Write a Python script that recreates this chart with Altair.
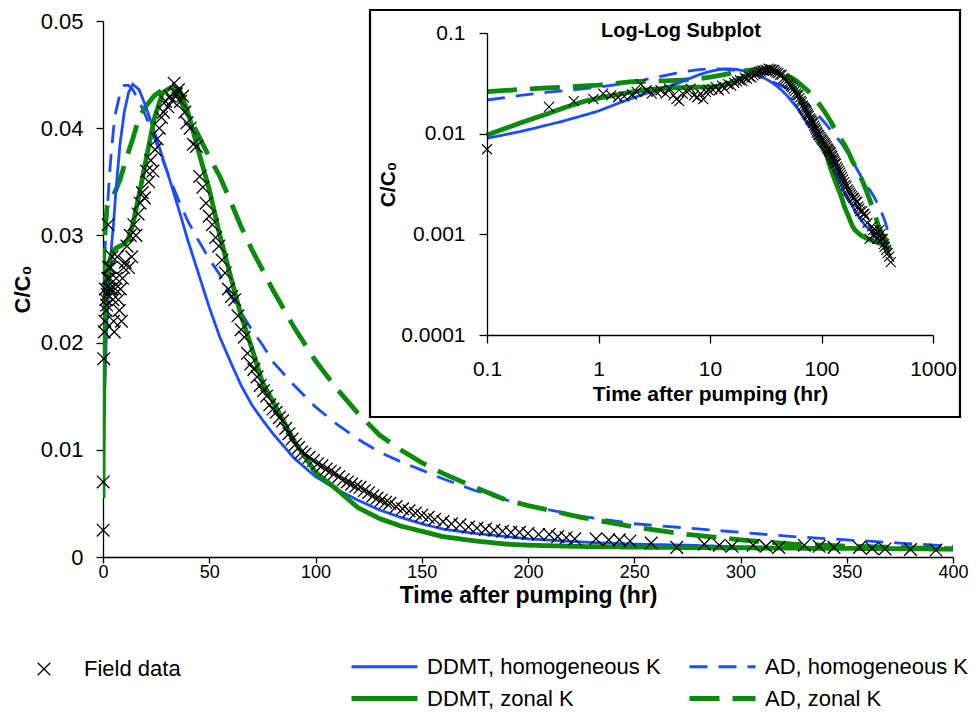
import altair as alt
import pandas as pd

FONT = "Liberation Sans"
CROSS = "M-1,-1L1,1M-1,1L1,-1"
LEGEND_LINE = "M-3,0L3,0"

# ---------------- data ----------------
model_t = [0.02, 0.1, 0.2, 0.35, 0.5, 0.75, 1, 1.5, 2, 3, 4, 5, 6, 8, 10, 12, 14, 17, 20, 24,
           28, 32, 36, 40, 45, 50, 55, 60, 65, 70, 75, 80, 90, 100, 110, 120, 130, 140, 150, 160,
           175, 190, 200, 225, 250, 275, 300, 325, 350, 375, 400, 420]

ddmt_homogeneous = [0.0055, 0.0090, 0.0105, 0.0122, 0.0135, 0.0153, 0.0168, 0.0200, 0.0225, 0.0262,
                    0.0290, 0.0312, 0.0340, 0.0385, 0.0415, 0.0433, 0.0441, 0.0436, 0.0421, 0.0398,
                    0.0373, 0.0348, 0.0322, 0.0295, 0.0264, 0.0233, 0.0205, 0.0182, 0.0160, 0.0142,
                    0.0128, 0.0115, 0.0092, 0.0075, 0.0063, 0.0053, 0.0044, 0.0037, 0.0031, 0.0026,
                    0.0022, 0.0019, 0.0017, 0.0014, 0.0012, 0.0011, 0.00095, 0.00088, 0.00082, 0.00077,
                    0.00072, 0.0007]

ad_homogeneous = [0.0170, 0.0216, 0.0240, 0.0258, 0.0268, 0.0280, 0.0290, 0.0308, 0.0322, 0.0355,
                  0.0380, 0.0400, 0.0415, 0.0432, 0.0440, 0.0440, 0.0436, 0.0425, 0.0412, 0.0392,
                  0.0371, 0.0350, 0.0331, 0.0313, 0.0295, 0.0278, 0.0263, 0.0244, 0.0228, 0.0212,
                  0.0198, 0.0182, 0.0160, 0.0140, 0.0124, 0.0110, 0.0098, 0.0089, 0.0081, 0.0073,
                  0.0062, 0.0053, 0.0048, 0.0038, 0.0031, 0.0027, 0.0023, 0.0019, 0.0016, 0.0013,
                  0.0010, 0.00095]

ddmt_zonal = [0.0055, 0.0097, 0.0128, 0.0158, 0.0182, 0.0210, 0.0225, 0.0245, 0.0260, 0.0275,
              0.0282, 0.0286, 0.0288, 0.0290, 0.0292, 0.0297, 0.0310, 0.0338, 0.0368, 0.0408,
              0.0433, 0.0438, 0.0436, 0.0415, 0.0378, 0.0343, 0.0300, 0.0262, 0.0225, 0.0195,
              0.0163, 0.0145, 0.0108, 0.0079, 0.0063, 0.0046, 0.0036, 0.0029, 0.0024, 0.0019,
              0.0015, 0.0012, 0.0011, 0.00098, 0.00092, 0.00088, 0.00085, 0.00082, 0.00080, 0.00077,
              0.00073, 0.0007]

ad_zonal = [0.0220, 0.0261, 0.0275, 0.0285, 0.0290, 0.0298, 0.0304, 0.0318, 0.0328, 0.0333,
            0.0335, 0.0338, 0.0342, 0.0352, 0.0365, 0.0378, 0.0390, 0.0410, 0.0420, 0.0430,
            0.0436, 0.0437, 0.0428, 0.0412, 0.0393, 0.0373, 0.0355, 0.0332, 0.0308, 0.0287,
            0.0268, 0.0249, 0.0214, 0.0183, 0.0157, 0.0134, 0.0114, 0.0100, 0.0088, 0.0078,
            0.0065, 0.0053, 0.0048, 0.0037, 0.0028, 0.0021, 0.0016, 0.0012, 0.0010, 0.0009,
            0.00075, 0.0007]

field_t = [0.05, 0.1, 0.36, 0.6, 0.9, 1.1, 1.3, 1.5, 1.7, 2.0, 2.2, 2.4, 2.7, 3.0, 3.3, 3.6, 4.0, 4.3,
           4.7, 5.0, 5.3, 5.7, 6.2, 6.7, 7.2, 7.7, 8.2, 8.7, 9.2, 9.7, 10.5, 11.3, 12.0, 12.8, 13.5,
           14.5, 15.5, 16.5, 17.5, 18.5, 19.5, 20.5, 21.5, 22.5, 23.5, 24.5, 25.5, 26.5, 27.5, 28.5,
           29.5, 30.5, 31.5, 32.5, 33.5, 34.5, 35.5, 36.5, 37.5, 38.5, 39.5, 41, 42.5, 44, 45.5, 47,
           48.5, 50, 51.5, 53, 54.5, 56, 57.5, 59, 60.5, 62, 63.5, 65, 66.5, 68, 69.5, 71, 72.5, 74,
           75.5, 77, 78.5, 80, 81.5, 83, 84.5, 86, 87.5, 89, 90.5, 92, 93.5, 95, 97, 99, 101, 103,
           105, 107, 109, 111, 113, 115, 117, 119, 121, 123, 125, 127, 129, 131, 133, 135, 138, 141,
           144, 147, 150, 153, 156, 160, 164, 168, 172, 176, 180, 184, 188, 192, 196, 200, 205, 210,
           214, 218, 222, 232, 238, 243, 248, 258, 270, 283, 290, 296, 306, 312, 318, 330, 337, 344,
           356, 362, 368, 380, 392, 405, 418]

field_c = [0.0025, 0.0070, 0.0185, 0.0210, 0.0220, 0.0250, 0.0240, 0.0230, 0.0235, 0.0245, 0.0260,
           0.0310, 0.0270, 0.0250, 0.0260, 0.0270, 0.0250, 0.0280, 0.0240, 0.0220, 0.0210, 0.0250,
           0.0260, 0.0280, 0.0240, 0.0230, 0.0250, 0.0220, 0.0260, 0.0270, 0.0275, 0.0290, 0.0270,
           0.0300, 0.0280, 0.0310, 0.0300, 0.0320, 0.0330, 0.0340, 0.0335, 0.0360, 0.0350, 0.0370,
           0.0360, 0.0380, 0.0390, 0.0400, 0.0410, 0.0415, 0.0425, 0.0420, 0.0430, 0.0426, 0.0442,
           0.0432, 0.0436, 0.0425, 0.0430, 0.0415, 0.0405, 0.0400, 0.0385, 0.0383, 0.0355, 0.0345,
           0.0330, 0.0318, 0.0310, 0.0298, 0.0290, 0.0277, 0.0265, 0.0250, 0.0243, 0.0240, 0.0225,
           0.0212, 0.0205, 0.0190, 0.0180, 0.0175, 0.0168, 0.0160, 0.0155, 0.0150, 0.0142, 0.0138,
           0.0135, 0.0130, 0.0127, 0.0120, 0.0115, 0.0110, 0.0105, 0.0102, 0.0098, 0.0096, 0.0093,
           0.0090, 0.0087, 0.0085, 0.0082, 0.0080, 0.0078, 0.0075, 0.0072, 0.0070, 0.0068, 0.0066,
           0.0065, 0.0062, 0.0060, 0.0057, 0.0055, 0.0053, 0.0051, 0.0050, 0.0047, 0.0045, 0.0043,
           0.0041, 0.0039, 0.0037, 0.0035, 0.0033, 0.0031, 0.0030, 0.0028, 0.0027, 0.0026, 0.0025,
           0.0024, 0.0023, 0.0023, 0.0022, 0.0021, 0.0021, 0.0019, 0.0018, 0.0017, 0.0017, 0.0016,
           0.0016, 0.0015, 0.0013, 0.0009, 0.0012, 0.0011, 0.0010, 0.0011, 0.0010, 0.0009, 0.0011,
           0.0010, 0.0009, 0.0009, 0.0008, 0.00075, 0.0007, 0.00065, 0.0006, 0.00053]

series_names = ["DDMT, homogeneous K", "AD, homogeneous K", "DDMT, zonal K", "AD, zonal K"]
series_colors = ["#1b4dff", "#1b4dff", "#0b8a0b", "#0b8a0b"]
series_dashes = [[1, 0], [18, 11], [1, 0], [30, 13]]
series_widths = [2.8, 2.8, 4.8, 4.8]
draw_order = ["AD, homogeneous K", "AD, zonal K", "DDMT, homogeneous K", "DDMT, zonal K"]

main_x_ticks = [0, 50, 100, 150, 200, 250, 300, 350, 400]
main_y_ticks = [0, 0.01, 0.02, 0.03, 0.04, 0.05]
inset_x_ticks = [0.1, 1, 10, 100, 1000]
inset_y_ticks = [0.0001, 0.001, 0.01, 0.1]

# ---------------- tables ----------------
rows = []
for name, values in zip(series_names, [ddmt_homogeneous, ad_homogeneous, ddmt_zonal, ad_zonal]):
    for t, c in zip(model_t, values):
        rows.append({"t": t, "c": c, "series": name})
models = pd.DataFrame(rows)
field = pd.DataFrame({"t": field_t, "c": field_c})
field["kind"] = "Field data"

# ---------------- shared encodings / legends ----------------
line_legend = alt.Legend(
    title=None, orient="none", legendX=268, legendY=633, columns=2, direction="horizontal",
    columnPadding=18, rowPadding=7, symbolSize=484, symbolType=LEGEND_LINE,
    labelFont=FONT, labelFontSize=22, labelColor="black", labelOffset=29,
    labelLimit=400, padding=0,
)
color_enc = alt.Color("series:N", scale=alt.Scale(domain=series_names, range=series_colors),
                      legend=line_legend)
dash_enc = alt.StrokeDash("series:N", scale=alt.Scale(domain=series_names, range=series_dashes),
                          legend=line_legend)
width_enc = alt.StrokeWidth("series:N", scale=alt.Scale(type="ordinal", domain=series_names,
                                                         range=series_widths),
                            legend=line_legend)

field_legend = alt.Legend(
    title=None, orient="none", legendX=-70, legendY=637, symbolSize=160,
    symbolStrokeWidth=1.3, symbolStrokeColor="black", symbolFillColor="transparent",
    labelFont=FONT, labelFontSize=22, labelColor="black", labelOffset=29, padding=0,
)
shape_enc = alt.Shape("kind:N", scale=alt.Scale(domain=["Field data"], range=[CROSS]),
                      legend=field_legend)

# ---------------- main (linear) panel ----------------
x_main = alt.X("t:Q", scale=alt.Scale(domain=[0, 400], nice=False, zero=False),
               axis=alt.Axis(title="Time after pumping (hr)", values=main_x_ticks, format="d",
                             labelFlush=False, labelOverlap=False, tickSize=6, labelPadding=0,
                             titlePadding=3, labelFontSize=18, titleFontSize=23,
                             titleFontWeight="bold", orient="bottom"))
y_main = alt.Y("c:Q", scale=alt.Scale(domain=[0, 0.05], nice=False),
               axis=alt.Axis(title="C/C₀", values=main_y_ticks, format="~g", labelFlush=False,
                             labelOverlap=False, tickSize=7, labelPadding=13, titlePadding=6,
                             labelFontSize=22, titleFontSize=22, titleFontWeight="bold",
                             orient="left"))

main_layers = []
for name in draw_order:
    main_layers.append(
        alt.Chart(models).transform_filter(alt.datum.series == name)
        .mark_line(clip=True)
        .encode(x=x_main, y=y_main, color=color_enc, strokeDash=dash_enc, strokeWidth=width_enc)
    )
main_layers.append(
    alt.Chart(field).transform_filter(alt.datum.t <= 400)
    .mark_point(filled=False, color="black", strokeWidth=1.3, size=160, opacity=1)
    .encode(x=x_main, y=y_main, shape=shape_enc)
)
main = alt.layer(*main_layers)

# ---------------- inset (log-log) panel ----------------
x_in = alt.X("t:Q", scale=alt.Scale(type="log", domain=[0.1, 1000], range=[384, 830], nice=False),
             axis=alt.Axis(title="Time after pumping (hr)", values=inset_x_ticks, format="~g",
                           orient="bottom", offset=-222, zindex=2, labelFlush=False,
                           labelOverlap=False, tickSize=8, labelPadding=15, titlePadding=4,
                           labelFontSize=21, titleFontSize=21, titleFontWeight="bold"))
y_in = alt.Y("c:Q", scale=alt.Scale(type="log", domain=[0.0001, 0.1], range=[314, 12], nice=False),
             axis=alt.Axis(title="C/C₀", values=inset_y_ticks, format="~g", orient="left",
                           offset=-384, zindex=2, labelFlush=False, labelOverlap=False,
                           tickSize=8, labelPadding=14, titlePadding=2, labelFontSize=21,
                           titleFontSize=21, titleFontWeight="bold"))

frame = alt.Chart(pd.DataFrame({"box": [0]})).mark_rect(
    fill="white", stroke="black", strokeWidth=2.2
).encode(x=alt.value(267), x2=alt.value(857), y=alt.value(-11), y2=alt.value(396))

inset_title = alt.Chart(pd.DataFrame({"label": ["Log-Log Subplot"]})).mark_text(
    font=FONT, fontSize=20, fontWeight="bold", color="black", baseline="middle", align="center"
).encode(x=alt.value(578), y=alt.value(10), text="label:N")

inset_layers = [frame, inset_title]
for name in draw_order:
    inset_layers.append(
        alt.Chart(models).transform_filter((alt.datum.series == name) & (alt.datum.t >= 0.1))
        .mark_line()
        .encode(x=x_in, y=y_in, color=color_enc, strokeDash=dash_enc, strokeWidth=width_enc)
    )
inset_layers.append(
    alt.Chart(field).transform_filter(alt.datum.t >= 0.1)
    .mark_point(filled=False, color="black", strokeWidth=1.1, size=100, opacity=1)
    .encode(x=x_in, y=y_in, shape=shape_enc)
)
inset = alt.layer(*inset_layers)

chart = (
    alt.layer(main, inset)
    .resolve_scale(x="independent", y="independent")
    .properties(
        width=850, height=536,
        autosize=alt.AutoSizeParams(type="none"),
        padding={"left": 95, "top": 13, "right": 15, "bottom": 152},
    )
    .configure_view(stroke=None)
    .configure_axis(
        grid=False, domainColor="black", tickColor="black", labelColor="black",
        titleColor="black", labelFont=FONT, titleFont=FONT, domainWidth=1.3, tickWidth=1.3,
    )
    .configure_legend(labelFont=FONT)
    .configure_text(font=FONT)
)

chart.save("out.html", embed_options={"renderer": "svg", "actions": False})
